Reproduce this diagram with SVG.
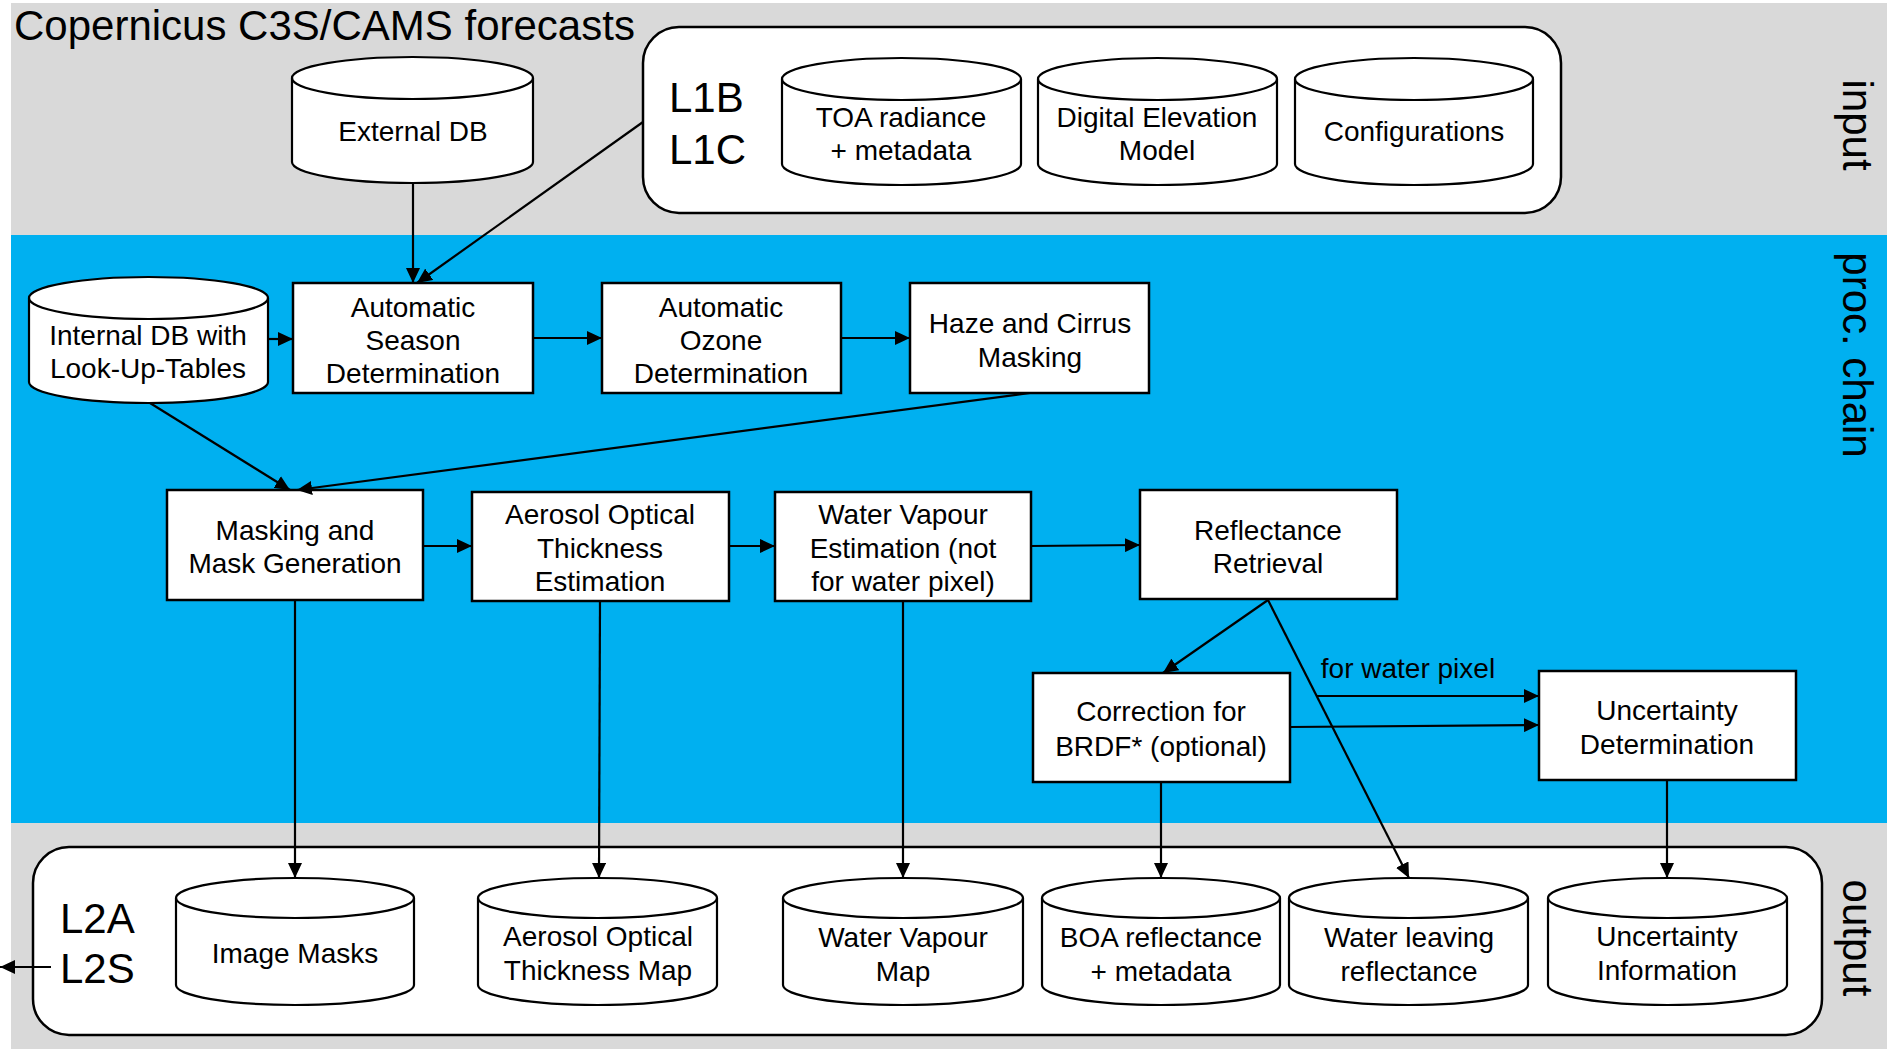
<svg xmlns="http://www.w3.org/2000/svg" width="1887" height="1049" viewBox="0 0 1887 1049">
<style>
text{font-family:"Liberation Sans",Arial,sans-serif;fill:#000}
.t{font-size:28px;text-anchor:middle}
.big{font-size:42px}
.box{fill:#fff;stroke:#000;stroke-width:2.5}
.cyl{fill:#fff;stroke:#000;stroke-width:2.2}
.cf{fill:none;stroke:#000;stroke-width:2.2}
.grp{fill:#fff;stroke:#000;stroke-width:2.5}
.c{fill:none;stroke:#000;stroke-width:2.2;marker-end:url(#ah)}
</style>
<defs>
<marker id="ah" markerUnits="userSpaceOnUse" markerWidth="16" markerHeight="14" refX="15" refY="7" orient="auto">
<path d="M0,0 L15,7 L0,14 Z" fill="#000"/>
</marker>
</defs>
<rect x="0" y="0" width="1887" height="1049" fill="#fff"/>
<rect x="11" y="3" width="1876" height="232" fill="#d9d9d9"/>
<rect x="11" y="235" width="1876" height="588" fill="#00b0f0"/>
<rect x="11" y="823" width="1876" height="226" fill="#d9d9d9"/>

<text class="big" x="14" y="40">Copernicus C3S/CAMS forecasts</text>
<text class="big" transform="translate(1843,125) rotate(90)" text-anchor="middle">input</text>
<text class="big" transform="translate(1843,355) rotate(90)" text-anchor="middle">proc. chain</text>
<text class="big" transform="translate(1843,938) rotate(90)" text-anchor="middle">output</text>

<g id="input-group">
<rect class="grp" x="643" y="27" width="918" height="186" rx="36"/>
<text class="big" x="669" y="112">L1B</text>
<text class="big" x="669" y="164">L1C</text>
</g>
<g id="output-group">
<rect class="grp" x="33" y="847" width="1789" height="188" rx="36"/>
<text class="big" x="60" y="933">L2A</text>
<text class="big" x="60" y="983">L2S</text>
</g>

<g id="external-db">
<path class="cyl" d="M292,78 A120.5,21 0 0 1 533,78 V162 A120.5,21 0 0 1 292,162 Z"/>
<path class="cf" d="M292,78 A120.5,21 0 0 0 533,78"/>
<text class="t" x="413" y="141">External DB</text>
</g>
<g id="toa">
<path class="cyl" d="M782,79 A119.5,21 0 0 1 1021,79 V164 A119.5,21 0 0 1 782,164 Z"/>
<path class="cf" d="M782,79 A119.5,21 0 0 0 1021,79"/>
<text class="t" x="901" y="127">TOA radiance</text>
<text class="t" x="901" y="160">+ metadata</text>
</g>
<g id="dem">
<path class="cyl" d="M1038,79 A119.5,21 0 0 1 1277,79 V164 A119.5,21 0 0 1 1038,164 Z"/>
<path class="cf" d="M1038,79 A119.5,21 0 0 0 1277,79"/>
<text class="t" x="1157" y="127">Digital Elevation</text>
<text class="t" x="1157" y="160">Model</text>
</g>
<g id="configurations">
<path class="cyl" d="M1295,79 A119,21 0 0 1 1533,79 V164 A119,21 0 0 1 1295,164 Z"/>
<path class="cf" d="M1295,79 A119,21 0 0 0 1533,79"/>
<text class="t" x="1414" y="141">Configurations</text>
</g>

<g id="internal-db">
<path class="cyl" d="M29,298 A119.5,21 0 0 1 268,298 V382 A119.5,21 0 0 1 29,382 Z"/>
<path class="cf" d="M29,298 A119.5,21 0 0 0 268,298"/>
<text class="t" x="148" y="345">Internal DB with</text>
<text class="t" x="148" y="378">Look-Up-Tables</text>
</g>
<g id="season">
<rect class="box" x="293" y="283" width="240" height="110"/>
<text class="t" x="413" y="317">Automatic</text>
<text class="t" x="413" y="350">Season</text>
<text class="t" x="413" y="383">Determination</text>
</g>
<g id="ozone">
<rect class="box" x="602" y="283" width="239" height="110"/>
<text class="t" x="721" y="317">Automatic</text>
<text class="t" x="721" y="350">Ozone</text>
<text class="t" x="721" y="383">Determination</text>
</g>
<g id="haze">
<rect class="box" x="910" y="283" width="239" height="110"/>
<text class="t" x="1030" y="333">Haze and Cirrus</text>
<text class="t" x="1030" y="367">Masking</text>
</g>
<g id="masking">
<rect class="box" x="167" y="490" width="256" height="110"/>
<text class="t" x="295" y="540">Masking and</text>
<text class="t" x="295" y="573">Mask Generation</text>
</g>
<g id="aerosol">
<rect class="box" x="472" y="492" width="257" height="109"/>
<text class="t" x="600" y="524">Aerosol Optical</text>
<text class="t" x="600" y="558">Thickness</text>
<text class="t" x="600" y="591">Estimation</text>
</g>
<g id="water-vapour">
<rect class="box" x="775" y="492" width="256" height="109"/>
<text class="t" x="903" y="524">Water Vapour</text>
<text class="t" x="903" y="558">Estimation (not</text>
<text class="t" x="903" y="591">for water pixel)</text>
</g>
<g id="reflectance">
<rect class="box" x="1140" y="490" width="257" height="109"/>
<text class="t" x="1268" y="540">Reflectance</text>
<text class="t" x="1268" y="573">Retrieval</text>
</g>
<g id="brdf">
<rect class="box" x="1033" y="673" width="257" height="109"/>
<text class="t" x="1161" y="721">Correction for</text>
<text class="t" x="1161" y="756">BRDF* (optional)</text>
</g>
<g id="uncertainty">
<rect class="box" x="1539" y="671" width="257" height="109"/>
<text class="t" x="1667" y="720">Uncertainty</text>
<text class="t" x="1667" y="754">Determination</text>
</g>

<g id="image-masks">
<path class="cyl" d="M176,898 A119,20 0 0 1 414,898 V985 A119,20 0 0 1 176,985 Z"/>
<path class="cf" d="M176,898 A119,20 0 0 0 414,898"/>
<text class="t" x="295" y="963">Image Masks</text>
</g>
<g id="aot-map">
<path class="cyl" d="M478,898 A119.5,20 0 0 1 717,898 V985 A119.5,20 0 0 1 478,985 Z"/>
<path class="cf" d="M478,898 A119.5,20 0 0 0 717,898"/>
<text class="t" x="598" y="946">Aerosol Optical</text>
<text class="t" x="598" y="980">Thickness Map</text>
</g>
<g id="wv-map">
<path class="cyl" d="M783,898 A120,20 0 0 1 1023,898 V985 A120,20 0 0 1 783,985 Z"/>
<path class="cf" d="M783,898 A120,20 0 0 0 1023,898"/>
<text class="t" x="903" y="947">Water Vapour</text>
<text class="t" x="903" y="981">Map</text>
</g>
<g id="boa">
<path class="cyl" d="M1042,898 A119,20 0 0 1 1280,898 V985 A119,20 0 0 1 1042,985 Z"/>
<path class="cf" d="M1042,898 A119,20 0 0 0 1280,898"/>
<text class="t" x="1161" y="947">BOA reflectance</text>
<text class="t" x="1161" y="981">+ metadata</text>
</g>
<g id="water-leaving">
<path class="cyl" d="M1289,898 A119.5,20 0 0 1 1528,898 V985 A119.5,20 0 0 1 1289,985 Z"/>
<path class="cf" d="M1289,898 A119.5,20 0 0 0 1528,898"/>
<text class="t" x="1409" y="947">Water leaving</text>
<text class="t" x="1409" y="981">reflectance</text>
</g>
<g id="uncertainty-info">
<path class="cyl" d="M1548,898 A119.5,20 0 0 1 1787,898 V985 A119.5,20 0 0 1 1548,985 Z"/>
<path class="cf" d="M1548,898 A119.5,20 0 0 0 1787,898"/>
<text class="t" x="1667" y="946">Uncertainty</text>
<text class="t" x="1667" y="980">Information</text>
</g>

<g id="connectors">
<path class="c" d="M413,183 V283"/>
<path class="c" d="M643,122 L417,283"/>
<path class="c" d="M268,339 H293"/>
<path class="c" d="M533,338 H602"/>
<path class="c" d="M841,338 H910"/>
<path class="c" d="M150,403 L290,490"/>
<path class="c" d="M1030,393 L297,490"/>
<path class="c" d="M423,546 H472"/>
<path class="c" d="M729,546 H775"/>
<path class="c" d="M1031,546 L1140,545"/>
<path class="c" d="M1268,600 L1163,673"/>
<path class="c" d="M1268,600 L1409,878"/>
<path class="c" d="M1317,696 H1539"/>
<path class="c" d="M1290,727 L1539,725"/>
<path class="c" d="M295,600 V878"/>
<path class="c" d="M600,601 L599,878"/>
<path class="c" d="M903,601 V878"/>
<path class="c" d="M1161,782 V878"/>
<path class="c" d="M1667,780 V878"/>
<path class="c" d="M51,967 H0"/>
<text class="t" x="1408" y="678">for water pixel</text>
</g>
</svg>
